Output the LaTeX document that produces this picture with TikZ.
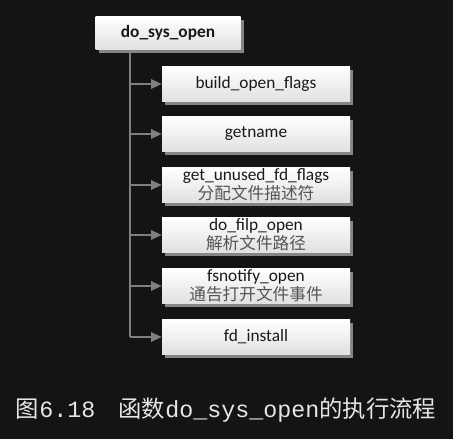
\documentclass[tikz,border=0pt]{standalone}
\usepackage{fontspec}
\usepackage{tikz}
\usetikzlibrary{shadows, arrows.meta}
\setmainfont{Carlito}
\newfontfamily\cjk{Noto Sans CJK SC}
\newfontfamily\capmono{Liberation Mono}

\definecolor{bgdark}{HTML}{141414}
\definecolor{linegrey}{HTML}{7F7F7F}
\definecolor{shadegrey}{HTML}{858585}
\definecolor{subgrey}{HTML}{555555}
\definecolor{captext}{HTML}{E6E6E6}

\tikzset{
  funcbox/.style={draw=none, top color=white, bottom color=black!12,
    minimum width=141pt, minimum height=26.25pt, inner sep=0pt,
    align=center, text=black!90, font=\fontsize{13pt}{14.5pt}\selectfont,
    drop shadow={shadow xshift=2.4pt, shadow yshift=-2.4pt, fill=shadegrey, opacity=1}},
  rootbox/.style={funcbox, minimum width=108.75pt, minimum height=24.75pt,
    font=\bfseries\fontsize{13pt}{14.5pt}\selectfont},
  branch/.style={draw=linegrey, line width=1.5pt},
  calltip/.style={-{Triangle[length=8pt, width=7pt]}, branch}
}
\newcommand{\subtxt}[1]{{\cjk\color{subgrey}\fontsize{12.5pt}{14.5pt}\selectfont #1}}

\begin{document}
\begin{tikzpicture}[x=0.75pt, y=-0.75pt]
  \fill[bgdark] (0,0) rectangle (453,439);
  \useasboundingbox (0,0) rectangle (453,439);

  \node[rootbox] (root) at (168,33) {do\_sys\_open};
  \coordinate (trunk) at (130,50);

  \node[funcbox] (flags)   at (256,84)  {build\_open\_flags};
  \node[funcbox] (getname) at (256,134) {getname};
  \node[funcbox] (unused)  at (256,185) {get\_unused\_fd\_flags\\\subtxt{分配文件描述符}};
  \node[funcbox] (filp)    at (256,235) {do\_filp\_open\\\subtxt{解析文件路径}};
  \node[funcbox] (notify)  at (256,286) {fsnotify\_open\\\subtxt{通告打开文件事件}};
  \node[funcbox] (install) at (256,337) {fd\_install};

  \draw[branch] (trunk) -- (trunk |- install.west);
  \foreach \callee in {flags,getname,unused,filp,notify,install}{
    \draw[calltip] (trunk |- \callee.west) -- (\callee.west);
  }

  \node[text=captext, font=\fontsize{17.5pt}{20pt}\selectfont] (caption) at (226,410)
    {{\cjk 图}{\capmono 6.18}{\cjk 　函数}{\capmono do\_sys\_open}{\cjk 的执行流程}};
\end{tikzpicture}
\end{document}
